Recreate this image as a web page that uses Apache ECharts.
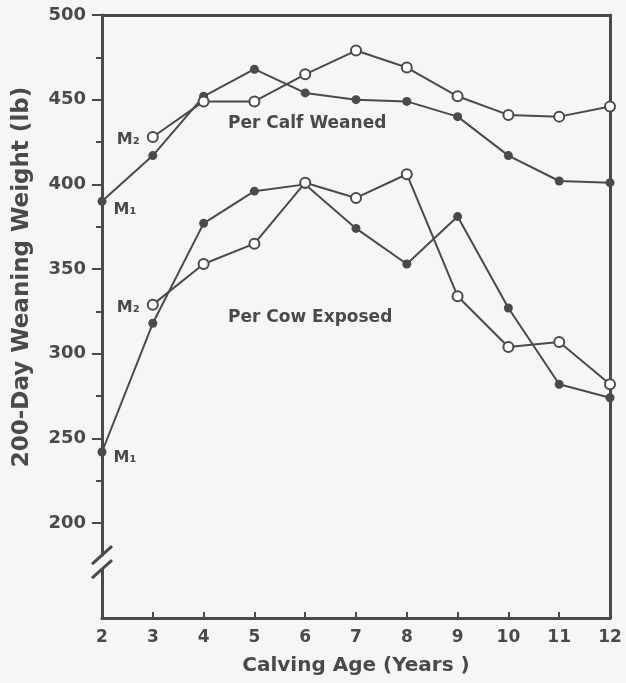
<!DOCTYPE html>
<html>
<head>
<meta charset="utf-8">
<script src="https://cdn.jsdelivr.net/npm/echarts@6/dist/echarts.min.js"></script>
<style>
html,body{margin:0;padding:0;background:#f6f6f4;}
#c{width:626px;height:683px;}
</style>
</head>
<body>
<div id="c"></div>
<script>
var ages = ['2','3','4','5','6','7','8','9','10','11','12'];
var calfM1 = [390, 417, 452, 468, 454, 450, 449, 440, 417, 402, 401];
var calfM2 = ['-', 428, 449, 449, 465, 479, 469, 452, 441, 440, 446];
var cowM1  = [242, 318, 377, 396, 400, 374, 353, 381, 327, 282, 274];
var cowM2  = ['-', 329, 353, 365, 401, 392, 406, 334, 304, 307, 282];
var yLabels = [200, 250, 300, 350, 400, 450, 500];
var yMinorTicks = [200, 225, 250, 275, 300, 325, 350, 375, 400, 425, 450, 475, 500];

var ink = '#4a4a4a';
var font = 'DejaVu Sans';

function lab(data, idx, text, pos, off) {
  return data.map(function (v, i) {
    if (i === idx) {
      return {value: v, label: {show: true, formatter: text, position: pos, offset: off || [0,0],
        color: ink, fontFamily: font, fontWeight: 'bold', fontSize: 16}};
    }
    return v;
  });
}
function series(data, filled, idx, text, pos, off) {
  return {
    type: 'line', data: lab(data, idx, text, pos, off), xAxisIndex: 0, yAxisIndex: 0,
    symbol: 'circle', symbolSize: filled ? 9 : 10,
    itemStyle: {color: filled ? ink : '#ffffff', borderColor: ink, borderWidth: filled ? 0 : 2},
    lineStyle: {color: ink, width: 2},
    label: {show: false},
    z: 5, animation: false
  };
}

var chart = echarts.init(document.getElementById('c'), null, {renderer: 'canvas'});
var opt = {
  backgroundColor: '#f6f6f4',
  animation: false,
  grid: {left: 102, right: 16, top: 15, bottom: 65, containLabel: false},
  xAxis: [{
    type: 'category', data: ages, boundaryGap: false,
    axisLine: {lineStyle: {color: ink, width: 3}},
    axisTick: {inside: true, length: 6, lineStyle: {color: ink, width: 2}},
    axisLabel: {color: ink, fontFamily: font, fontWeight: 'bold', fontSize: 17, margin: 11},
    name: 'Calving Age (Years )', nameLocation: 'middle', nameGap: 38,
    nameTextStyle: {color: ink, fontFamily: font, fontWeight: 'bold', fontSize: 20}
  }, {
    type: 'category', data: ages, boundaryGap: false, position: 'top',
    axisLine: {lineStyle: {color: ink, width: 3}},
    axisTick: {show: false}, axisLabel: {show: false}
  }],
  yAxis: [{
    type: 'value', min: 144, max: 500,
    axisLine: {show: true, lineStyle: {color: ink, width: 3}},
    axisTick: {show: true, length: 10, customValues: yLabels, lineStyle: {color: ink, width: 2}},
    axisLabel: {customValues: yLabels, color: ink, fontFamily: font, fontWeight: 'bold', fontSize: 18, margin: 16},
    splitLine: {show: false}
  }, {
    type: 'value', min: 144, max: 500, position: 'left',
    axisLine: {show: false},
    axisTick: {show: true, length: 6, customValues: yMinorTicks, lineStyle: {color: ink, width: 2}},
    axisLabel: {show: false},
    splitLine: {show: false}
  }, {
    type: 'value', min: 144, max: 500, position: 'right',
    axisLine: {show: true, lineStyle: {color: ink, width: 3}},
    axisTick: {show: false}, axisLabel: {show: false}, splitLine: {show: false}
  }],
  series: [
    series(calfM1, true, 0, 'M\u2081', 'right', [2, 9]),
    series(calfM2, false, 1, 'M\u2082', 'left', [-2, 3]),
    series(cowM1, true, 0, 'M\u2081', 'right', [2, 6]),
    series(cowM2, false, 1, 'M\u2082', 'left', [-2, 3])
  ],
  graphic: [
    {type: 'text', left: 228, top: 115, style: {text: 'Per Calf Weaned', fill: ink, font: 'bold 17px "DejaVu Sans"'}},
    {type: 'text', left: 228, top: 309, style: {text: 'Per Cow Exposed', fill: ink, font: 'bold 17px "DejaVu Sans"'}},
    {type: 'text', x: 22, y: 277, rotation: Math.PI / 2,
      style: {text: '200-Day Weaning Weight (lb)', fill: ink, font: 'bold 23px "DejaVu Sans"', align: 'center', verticalAlign: 'middle'}}
  ]
};
chart.setOption(opt);

// axis break decoration on the y axis
var yb = chart.convertToPixel({yAxisIndex: 0}, 177);
var xb = chart.convertToPixel({xAxisIndex: 0}, 0);
chart.setOption({
  graphic: opt.graphic.concat([
    {type: 'rect', shape: {x: xb - 3, y: yb - 6, width: 6, height: 12}, style: {fill: '#f6f6f4'}, z: 100},
    {type: 'line', shape: {x1: xb - 10, y1: yb + 2, x2: xb + 10, y2: yb - 16}, style: {stroke: ink, lineWidth: 3}, z: 101},
    {type: 'line', shape: {x1: xb - 10, y1: yb + 16, x2: xb + 10, y2: yb - 2}, style: {stroke: ink, lineWidth: 3}, z: 101}
  ])
});
</script>
</body>
</html>
